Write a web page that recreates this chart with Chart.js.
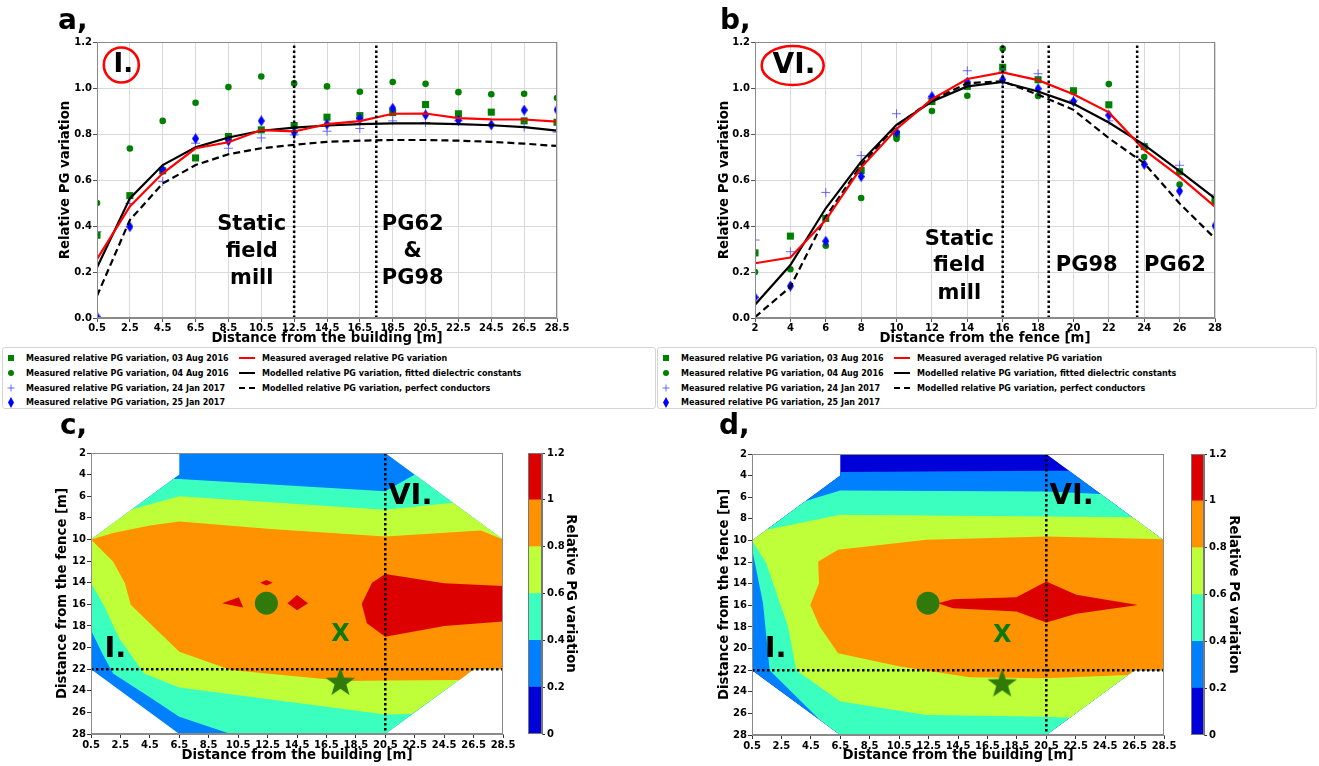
<!DOCTYPE html>
<html><head><meta charset="utf-8">
<script src="https://cdn.jsdelivr.net/npm/chart.js@4.4.1/dist/chart.umd.min.js"></script>
<style>
html,body{margin:0;padding:0;background:#fff}
#wrap{position:relative;width:1319px;height:766px;overflow:hidden;font-family:"DejaVu Sans",sans-serif}
#wrap canvas{position:absolute}
.plab{position:absolute;font-weight:bold;font-size:28px;line-height:28px;color:#000}
.leg{position:absolute;border:1px solid #d5d5d5;border-radius:3px;background:#fff;box-sizing:border-box}
.lt{position:absolute;white-space:nowrap;font-weight:bold;font-size:9.2px;line-height:10px;transform:scaleX(0.87);transform-origin:0 50%;color:#000}
.lm{position:absolute;display:block;line-height:0}
.lm svg{display:block}
</style></head><body><div id="wrap">
<canvas id="ca" width="640" height="348" style="left:0;top:0;width:640px;height:348px"></canvas>
<canvas id="cb" width="659" height="348" style="left:660px;top:0;width:659px;height:348px"></canvas>
<canvas id="cc" width="520" height="366" style="left:0;top:400px;width:520px;height:366px"></canvas>
<canvas id="cd" width="520" height="366" style="left:660px;top:400px;width:520px;height:366px"></canvas>
<canvas id="cbarc" width="80" height="310" style="left:520px;top:440px;width:80px;height:310px"></canvas>
<canvas id="cbard" width="100" height="310" style="left:1180px;top:440px;width:100px;height:310px"></canvas>
<div class="plab" style="left:58px;top:6px">a,</div>
<div class="plab" style="left:720px;top:6px">b,</div>
<div class="plab" style="left:60px;top:411px">c,</div>
<div class="plab" style="left:719px;top:411px">d,</div>
</div>
<script>
// ---------- Panel a: distance from the building ----------
const xA = [0.5,2.5,4.5,6.5,8.5,10.5,12.5,14.5,16.5,18.5,20.5,22.5,24.5,26.5,28.5];
const aAug03 = [0.36,0.532,0.64,0.696,0.789,0.818,0.837,0.873,0.880,0.893,0.928,0.888,0.895,0.857,0.851];
const aAug04 = [0.50,0.737,0.857,0.936,1.004,1.050,1.020,1.007,0.984,1.026,1.018,0.982,0.973,0.975,0.956];
const aJan24 = [0.375,0.498,0.593,0.76,0.738,0.783,0.796,0.812,0.824,0.857,0.85,0.857,0.838,0.831,0.808];
const aJan25 = [0.005,0.397,0.644,0.78,0.77,0.857,0.808,0.843,0.867,0.912,0.883,0.86,0.84,0.904,0.905];
const aAvg  = [0.256,0.485,0.629,0.738,0.764,0.817,0.811,0.843,0.856,0.888,0.889,0.869,0.864,0.863,0.854];
const aFit  = [0.219,0.52,0.665,0.742,0.785,0.814,0.828,0.837,0.843,0.846,0.846,0.843,0.838,0.83,0.815];
const aPerf = [0.096,0.426,0.585,0.665,0.712,0.738,0.753,0.766,0.771,0.774,0.774,0.771,0.766,0.758,0.748];
const aMarks = [12.5, 17.5];

// ---------- Panel b: distance from the fence ----------
const xB = [2,4,6,8,10,12,14,16,18,20,22,24,26,28];
const bAug03 = [0.283,0.356,0.433,0.641,0.799,0.941,1.007,1.09,1.036,0.988,0.927,0.745,0.636,0.51];
const bAug04 = [0.20,0.212,0.314,0.522,0.779,0.90,0.966,1.171,0.965,0.985,1.017,0.70,0.58,0.51];
const bJan24 = [0.339,0.288,0.546,0.706,0.888,0.956,1.075,1.07,1.062,0.947,0.857,0.748,0.664,0.535];
const bJan25 = [0.09,0.139,0.334,0.615,0.808,0.963,1.026,1.036,0.997,0.941,0.882,0.668,0.552,0.401];
const bAvg  = [0.238,0.263,0.426,0.654,0.822,0.952,1.039,1.068,1.034,0.973,0.894,0.731,0.615,0.484];
const bFit  = [0.058,0.23,0.477,0.68,0.84,0.941,1.007,1.026,0.985,0.931,0.85,0.753,0.639,0.52];
const bPerf = [0.004,0.135,0.44,0.665,0.837,0.947,1.021,1.029,0.971,0.905,0.782,0.673,0.498,0.346];
const bMarks = [16, 18.6, 23.6];

const yTicksAB = [0,0.2,0.4,0.6,0.8,1.0,1.2];
const xTicksCD = [0.5,2.5,4.5,6.5,8.5,10.5,12.5,14.5,16.5,18.5,20.5,22.5,24.5,26.5,28.5];
const yTicksCD = [2,4,6,8,10,12,14,16,18,20,22,24,26,28];
const cbTicks = [0,0.2,0.4,0.6,0.8,1,1.2];
const cbLabels = ['0','0.2','0.4','0.6','0.8','1','1.2'];
const levelColors = ['#0000d9','#0080ff','#3affbf','#bfff3a','#ff9200','#dd0000'];

// ---------- Panel c contour regions (value >= level), [x, y] in metres ----------
const mapOutline = [[6.5,2],[20.5,2],[28.5,10],[28.5,22],[26.5,22],[20.5,28],[6.5,28],[0.5,22],[0.5,10],[6.5,4]];
const c04 = [[6.1,4.4],[6.5,4.4],[20.5,5.55],[22.5,4.0],[28.5,10],[28.5,22],[26.5,22],[20.5,28],[10.0,28],[6.5,26.4],[4.5,24.6],[2.0,22.4],[1.25,20.5],[0.5,18.4],[0.5,10]];
const c06 = [[3.3,7.2],[6.5,6.0],[20.5,7.25],[25.1,6.6],[28.5,10],[28.5,22],[26.5,22],[25.6,22.9],[22.3,26.15],[20.5,26.2],[6.5,23.7],[4.1,22.4],[2.4,19.1],[1.35,16.05],[0.5,14.05],[0.5,10]];
const c08 = [[0.5,10],[2.0,9.4],[4.5,8.7],[6.5,8.33],[12.7,9.04],[20.5,9.72],[27.0,9.17],[28.5,10],[28.5,22],[26.5,22],[25.55,23.0],[20.5,23.06],[17.7,23.1],[10.0,22.07],[6.5,20.38],[3.2,16.05],[2.8,14.04],[2.0,12.04]];
const c10a = [[28.5,14.3],[24.5,14.05],[20.5,13.2],[19.6,14.0],[18.9,15.95],[19.25,17.75],[20.5,19.0],[24.5,18.0],[28.5,17.6]];
const c10b = [[9.4,15.9],[10.55,15.35],[10.85,16.3]];
const c10c = [[13.85,15.9],[14.5,15.15],[15.25,15.9],[14.5,16.55]];
const c10d = [[12.0,14.0],[12.42,13.75],[12.85,14.0],[12.42,14.25]];

// ---------- Panel d contour regions ----------
const d02 = [[6.5,3.67],[20.5,3.55],[22.05,3.55],[28.5,10],[28.5,22],[26.5,22],[20.5,28],[6.5,28],[0.5,22],[0.5,10],[6.5,4]];
const d04 = [[4.15,6.35],[6.5,5.37],[20.5,5.46],[24.2,5.7],[28.5,10],[28.5,22],[26.5,22],[20.5,28],[6.5,28],[5.1,26.6],[1.7,22],[1.25,15.8],[0.55,11.1],[0.5,11],[0.5,10]];
const d06 = [[1.5,9.0],[6.5,7.62],[20.5,7.78],[26.35,7.85],[28.5,10],[28.5,22],[26.5,22],[22.1,26.4],[20.5,26.3],[12.35,26.15],[6.5,24.9],[3.5,22],[2.95,17.97],[1.93,13.95],[1.47,12.1],[0.5,10]];
const d08 = [[5.0,11.95],[6.35,10.86],[12.35,9.94],[20.5,9.63],[28.5,9.88],[28.5,22],[26.5,22],[26.05,22.45],[20.5,22.75],[15.3,22.66],[10.55,21.67],[6.35,20.44],[5.1,17.97],[4.46,15.96],[5.05,13.95]];
const d10 = [[13.14,15.8],[14.16,15.43],[18.47,15.25],[20.5,13.8],[22.54,15.03],[26.73,15.96],[22.54,16.79],[20.5,17.6],[18.47,16.58],[14.16,16.27]];

const cMill = [12.42,15.9], dMill = [12.46,15.8];
const cStar = [17.45,23.15], dStar = [17.5,23.2];
const cCross = [17.45,18.8], dCross = [17.5,18.85];
const sectionX = 20.5, sectionY = 22;

const legendMeasured = ['Measured relative PG variation, 03 Aug 2016','Measured relative PG variation, 04 Aug 2016','Measured relative PG variation, 24 Jan 2017','Measured relative PG variation, 25 Jan 2017'];
const legendModel = ['Measured averaged relative PG variation','Modelled relative PG variation, fitted dielectric constants','Modelled relative PG variation, perfect conductors'];

// ---------- helpers ----------
Chart.defaults.font.family = '"DejaVu Sans", sans-serif';
Chart.defaults.color = '#000';
const fontTick = {family:'"DejaVu Sans", sans-serif', size:10, weight:'bold'};
const fontTitle = {family:'"DejaVu Sans", sans-serif', size:13.3, weight:'bold', lineHeight:1.2};

function imgDiamond(w,h,color){const c=document.createElement('canvas');c.width=w;c.height=h;const g=c.getContext('2d');g.fillStyle=color;g.beginPath();g.moveTo(w/2,0);g.lineTo(w,h/2);g.lineTo(w/2,h);g.lineTo(0,h/2);g.closePath();g.fill();return c;}
function imgStar(size,color){const c=document.createElement('canvas');c.width=size;c.height=size;const g=c.getContext('2d');g.fillStyle=color;g.beginPath();const cx=size/2,cy=size*0.53,R=size/2,r=R*0.4;for(let i=0;i<10;i++){const a=-Math.PI/2+i*Math.PI/5;const rr=i%2?r:R;g.lineTo(cx+rr*Math.cos(a),cy+rr*Math.sin(a));}g.closePath();g.fill();return c;}
const diamondImg = imgDiamond(7,11,'#0000ff');
const starImg = imgStar(31,'#2f7a0a');

const annotPlugin = {
  id:'annot',
  afterDatasetsDraw(chart, args, o){
    if(!o) return;
    const ctx=chart.ctx, xs=chart.scales.x, ys=chart.scales.y;
    (o.ellipses||[]).forEach(e=>{ctx.save();ctx.beginPath();ctx.ellipse(xs.getPixelForValue(e.x),ys.getPixelForValue(e.y),e.rx,e.ry,0,0,2*Math.PI);ctx.lineWidth=e.lw;ctx.strokeStyle=e.color;ctx.stroke();ctx.restore();});
    (o.texts||[]).forEach(t=>{ctx.save();ctx.font='bold '+t.size+'px "DejaVu Sans", sans-serif';ctx.fillStyle=t.color||'#000';ctx.textAlign='center';ctx.textBaseline='middle';ctx.fillText(t.text,xs.getPixelForValue(t.x),ys.getPixelForValue(t.y));ctx.restore();});
  }
};
const framePlugin = {
  id:'frame',
  afterDatasetsDraw(chart, args, o){
    if(!o || !o.color) return;
    const a=chart.chartArea, ctx=chart.ctx;
    ctx.save();ctx.strokeStyle=o.color;ctx.lineWidth=1;
    ctx.strokeRect(Math.round(a.left)+0.5,Math.round(a.top)+0.5,Math.round(a.right-a.left)-1,Math.round(a.bottom-a.top)-1);
    ctx.restore();
  }
};
Chart.register(annotPlugin, framePlugin);

function xy(xs, ys){return xs.map((x,i)=>({x, y:ys[i]}));}
function lineDS(xs, ys, color, dash){return {data:xy(xs,ys), showLine:true, borderColor:color, backgroundColor:color, borderWidth:2.2, borderDash:dash, pointRadius:0};}
function vlineDS(x, y0, y1){return {data:[{x,y:y0},{x,y:y1}], showLine:true, borderColor:'#000', borderWidth:2.5, borderDash:[2.5,2.5], pointRadius:0};}
function hlineDS(y, x0, x1){return {data:[{x:x0,y},{x:x1,y}], showLine:true, borderColor:'#000', borderWidth:2.5, borderDash:[2.5,2.5], pointRadius:0};}
function markerDS(xs, ys, style){return Object.assign({data:xy(xs,ys), showLine:false}, style);}
const stSquare = {pointStyle:'rect', pointRadius:5, backgroundColor:'#008000', borderColor:'#008000', borderWidth:0};
const stCircle = {pointStyle:'circle', pointRadius:3.3, backgroundColor:'#008000', borderColor:'#008000', borderWidth:0};
const stPlus = {pointStyle:'cross', pointRadius:4.5, borderColor:'rgba(70,70,255,0.8)', backgroundColor:'rgba(70,70,255,0.8)', borderWidth:1};
const stDiamond = {pointStyle:diamondImg, pointRadius:5};

function tickAxis(ticks, fmt, pad){
  return {
    afterBuildTicks:s=>{s.ticks=ticks.map(v=>({value:v}));},
    ticks:{font:fontTick, color:'#000', padding:pad, maxRotation:0, autoSkip:false, callback:fmt}
  };
}

function profileChart(id, xs, xTicks, xFmt, xTitle, pad, yWidth, yTitlePad, sets, marks, annot){
  const ds = [];
  marks.forEach(m=>ds.push(vlineDS(m,0,1.2)));
  ds.push(lineDS(xs, sets.avg, '#ff0000', []));
  ds.push(lineDS(xs, sets.fit, '#000000', []));
  ds.push(lineDS(xs, sets.perf, '#000000', [7,4]));
  ds.push(markerDS(xs, sets.jan25, stDiamond));
  ds.push(markerDS(xs, sets.jan24, stPlus));
  ds.push(markerDS(xs, sets.aug04, stCircle));
  ds.push(markerDS(xs, sets.aug03, stSquare));
  return new Chart(document.getElementById(id), {
    type:'scatter',
    data:{datasets:ds},
    options:{
      responsive:false, animation:false, events:[],
      layout:{padding:pad},
      plugins:{legend:{display:false}, tooltip:{enabled:false}, annot:annot, frame:{color:'#8a8a8a'}},
      scales:{
        x:Object.assign(tickAxis(xTicks, xFmt, 0), {type:'linear', min:xTicks[0], max:xTicks[xTicks.length-1],
          afterFit:s=>{s.height=30},
          grid:{color:'#d9d9d9', tickColor:'#555', tickLength:4}, border:{color:'#8a8a8a'},
          title:{display:true, text:xTitle, font:fontTitle, color:'#000', padding:{top:0,bottom:1.5}}}),
        y:Object.assign(tickAxis(yTicksAB, v=>v.toFixed(1), 1), {type:'linear', min:0, max:1.2,
          afterFit:s=>{s.width=yWidth},
          grid:{color:'#d9d9d9', tickColor:'#555', tickLength:4}, border:{color:'#8a8a8a'},
          title:{display:true, text:'Relative PG variation', font:fontTitle, color:'#000', padding:{top:yTitlePad,bottom:0}}})
      }
    }
  });
}

profileChart('ca', xA, xA, v=>v.toFixed(1), 'Distance from the building [m]',
  {left:0, top:42, right:83, bottom:0}, 97, 58,
  {avg:aAvg, fit:aFit, perf:aPerf, jan25:aJan25, jan24:aJan24, aug04:aAug04, aug03:aAug03}, aMarks,
  {ellipses:[{x:1.98,y:1.10,rx:17.5,ry:17.5,lw:2.6,color:'#ff0000'}],
   texts:[{text:'I.',x:2.1,y:1.10,size:26},
          {text:'Static',x:9.92,y:0.407,size:21},{text:'field',x:9.92,y:0.288,size:21},{text:'mill',x:9.92,y:0.173,size:21},
          {text:'PG62',x:19.72,y:0.407,size:21},{text:'&',x:19.72,y:0.288,size:21},{text:'PG98',x:19.72,y:0.173,size:21}]});

profileChart('cb', xB, xB, v=>String(v), 'Distance from the fence [m]',
  {left:0, top:42, right:104, bottom:0}, 95, 57,
  {avg:bAvg, fit:bFit, perf:bPerf, jan25:bJan25, jan24:bJan24, aug04:bAug04, aug03:bAug03}, bMarks,
  {ellipses:[{x:4.13,y:1.098,rx:31,ry:19.5,lw:2.6,color:'#ff0000'}],
   texts:[{text:'VI.',x:4.2,y:1.098,size:28},
          {text:'Static',x:13.55,y:0.343,size:21},{text:'field',x:13.55,y:0.226,size:21},{text:'mill',x:13.55,y:0.107,size:21},
          {text:'PG98',x:20.75,y:0.226,size:21},{text:'PG62',x:25.74,y:0.226,size:21}]});

function polyDS(pts, color, order){return {data:pts.map(p=>({x:p[0],y:p[1]})), showLine:true, fill:'shape', backgroundColor:color, borderColor:'rgba(0,0,0,0)', borderWidth:1, pointRadius:0, order};}

function mapChart(id, layers, mill, star, cross, pad, yWidth, xHeight, yTitlePad, xTitlePad, texts){
  const ds = [];
  layers.forEach((L,i)=>L.polys.forEach(p=>ds.push(polyDS(p, L.color, 100-i))));
  ds.push(Object.assign(vlineDS(sectionX,2,28),{order:3}));
  ds.push(Object.assign(hlineDS(sectionY,0.5,28.5),{order:3}));
  ds.push({data:[{x:mill[0],y:mill[1]}], pointStyle:'circle', pointRadius:11.5, backgroundColor:'#2f7a0a', borderWidth:0, order:1});
  ds.push({data:[{x:star[0],y:star[1]}], pointStyle:starImg, pointRadius:15, order:1});
  return new Chart(document.getElementById(id), {
    type:'scatter',
    data:{datasets:ds},
    options:{
      responsive:false, animation:false, events:[],
      layout:{padding:pad},
      plugins:{legend:{display:false}, tooltip:{enabled:false}, frame:{color:'#8a8a8a'},
        annot:{texts:texts.concat([{text:'X',x:cross[0],y:cross[1],size:24,color:'#0b7a0b'}])}},
      scales:{
        x:Object.assign(tickAxis(xTicksCD, v=>v.toFixed(1), 1), {type:'linear', min:0.5, max:28.5,
          afterFit:s=>{s.height=xHeight},
          grid:{drawOnChartArea:false, tickColor:'#333', tickLength:4}, border:{color:'#8a8a8a'},
          title:{display:true, text:'Distance from the building [m]', font:fontTitle, color:'#000', padding:{top:0,bottom:xTitlePad}}}),
        y:Object.assign(tickAxis(yTicksCD, v=>String(v), 1), {type:'linear', min:2, max:28, reverse:true,
          afterFit:s=>{s.width=yWidth},
          grid:{drawOnChartArea:false, tickColor:'#333', tickLength:4}, border:{color:'#8a8a8a'},
          title:{display:true, text:'Distance from the fence [m]', font:fontTitle, color:'#000', padding:{top:yTitlePad,bottom:0}}})
      }
    }
  });
}

mapChart('cc', [
  {color:levelColors[1], polys:[mapOutline]},
  {color:levelColors[2], polys:[c04]},
  {color:levelColors[3], polys:[c06]},
  {color:levelColors[4], polys:[c08]},
  {color:levelColors[5], polys:[c10a,c10b,c10c,c10d]}
], cMill, cStar, cCross, {left:0, top:53, right:17, bottom:0}, 91, 32, 55, 2.5,
  [{text:'VI.',x:22.2,y:6.0,size:29},{text:'I.',x:2.15,y:20.2,size:29}]);

mapChart('cd', [
  {color:levelColors[0], polys:[mapOutline]},
  {color:levelColors[1], polys:[d02]},
  {color:levelColors[2], polys:[d04]},
  {color:levelColors[3], polys:[d06]},
  {color:levelColors[4], polys:[d08]},
  {color:levelColors[5], polys:[d10]}
], dMill, dStar, dCross, {left:0, top:54, right:16, bottom:0}, 92, 31, 57, 2.5,
  [{text:'VI.',x:22.23,y:5.92,size:29},{text:'I.',x:2.1,y:20.07,size:29}]);

function colorbar(id, pad, yWidth, titlePad){
  const ds = levelColors.map((c,i)=>({data:[cbTicks[i+1]-cbTicks[i]], backgroundColor:c, borderWidth:0, barPercentage:1, categoryPercentage:1}));
  return new Chart(document.getElementById(id), {
    type:'bar',
    data:{labels:['cb'], datasets:ds},
    options:{
      responsive:false, animation:false, events:[],
      layout:{padding:pad},
      plugins:{legend:{display:false}, tooltip:{enabled:false}, frame:{color:'#777'}},
      scales:{
        x:{display:false, stacked:true},
        y:{position:'right', stacked:true, min:0, max:1.2,
          afterBuildTicks:s=>{s.ticks=cbTicks.map(v=>({value:v}));},
          afterFit:s=>{s.width=yWidth},
          ticks:{font:fontTick, color:'#000', padding:2, callback:(v,i)=>cbLabels[i]},
          grid:{drawOnChartArea:false, tickColor:'#333', tickLength:3}, border:{color:'#777'},
          title:{display:true, text:'Relative PG variation', font:fontTitle, color:'#000', padding:{top:titlePad,bottom:0}}}
      }
    }
  });
}
colorbar('cbarc', {left:8, top:13, right:0, bottom:16}, 58, 22);
colorbar('cbard', {left:11, top:14, right:0, bottom:15}, 76, 39);

// ---------- HTML legends ----------
function markerSVG(kind){
  if(kind===0) return '<svg width="8" height="8"><rect x="1" y="1" width="6" height="6" fill="#008000"/></svg>';
  if(kind===1) return '<svg width="8" height="8"><circle cx="4" cy="4" r="3" fill="#008000"/></svg>';
  if(kind===2) return '<svg width="8" height="8"><path d="M4 0.5V7.5M0.5 4H7.5" stroke="rgba(70,70,255,0.8)" stroke-width="1"/></svg>';
  return '<svg width="8" height="11"><polygon points="4,0 7,5.5 4,11 1,5.5" fill="#0000ff"/></svg>';
}
function lineSVG(kind){
  if(kind===0) return '<svg width="16" height="4"><line x1="0" y1="2" x2="16" y2="2" stroke="#ff0000" stroke-width="2"/></svg>';
  if(kind===1) return '<svg width="16" height="4"><line x1="0" y1="2" x2="16" y2="2" stroke="#000" stroke-width="2"/></svg>';
  return '<svg width="16" height="4"><line x1="0" y1="2" x2="16" y2="2" stroke="#000" stroke-width="2" stroke-dasharray="6,4"/></svg>';
}
function buildLegend(left, top, w, h){
  const wrap=document.getElementById('wrap');
  const box=document.createElement('div');box.className='leg';
  box.style.cssText='left:'+left+'px;top:'+top+'px;width:'+w+'px;height:'+h+'px';
  const rows=[10,25,39.5,54];
  legendMeasured.forEach((t,i)=>{
    const m=document.createElement('div');m.className='lm';m.innerHTML=markerSVG(i);
    const mh=(i===3)?11:8;m.style.cssText='left:4px;top:'+(rows[i]-mh/2)+'px;width:8px;height:'+mh+'px';
    box.appendChild(m);
    const s=document.createElement('div');s.className='lt';s.textContent=t;s.style.left='23px';s.style.top=(rows[i]-5)+'px';
    box.appendChild(s);
  });
  legendModel.forEach((t,i)=>{
    const m=document.createElement('div');m.className='lm';m.innerHTML=lineSVG(i);
    m.style.cssText='left:236px;top:'+(rows[i]-2)+'px;width:16px;height:4px';
    box.appendChild(m);
    const s=document.createElement('div');s.className='lt';s.textContent=t;s.style.left='259px';s.style.top=(rows[i]-5)+'px';
    box.appendChild(s);
  });
  wrap.appendChild(box);
}
buildLegend(2,347,654,62);
buildLegend(657,347,660,62);
</script>
</body></html>
